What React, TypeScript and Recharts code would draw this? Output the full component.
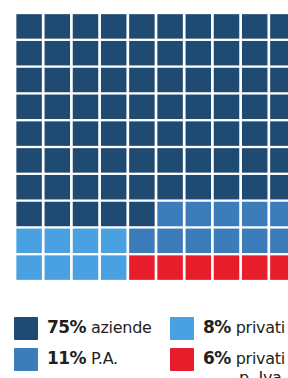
import { ScatterChart, Scatter, XAxis, YAxis } from 'recharts'

// share of customers, 100 cells
const categories = ['aziende', 'P.A.', 'privati', 'privati\np. Iva']
const percents = [75, 11, 8, 6]
const colors = ['#1f4a72', '#3d7cba', '#4aa1e1', '#e81d2b']

// which category fills each cell, row by row from the top (index into categories)
const gridRows = [
  '0000000000',
  '0000000000',
  '0000000000',
  '0000000000',
  '0000000000',
  '0000000000',
  '0000000000',
  '0000011111',
  '2222111111',
  '2222333333',
]

const CELL_W = 25.5
const CELL_H = 24.5

function cellsFor(cat: number) {
  const out: { x: number; y: number }[] = []
  gridRows.forEach((row, r) => {
    row.split('').forEach((ch, c) => {
      if (Number(ch) === cat) out.push({ x: c + 0.5, y: r + 0.5 })
    })
  })
  return out
}

const Square = (props: any) => (
  <rect
    x={props.cx - CELL_W / 2}
    y={props.cy - CELL_H / 2}
    width={CELL_W}
    height={CELL_H}
    fill={props.fill}
  />
)

function LegendItem({ i, left, top }: { i: number; left: number; top: number }) {
  const [first, second] = categories[i].split('\n')
  return (
    <div style={{ position: 'absolute', left, top, display: 'flex', alignItems: 'flex-start' }}>
      <div style={{ width: 24, height: 23, background: colors[i], borderRadius: 1 }} />
      <div style={{ marginLeft: 9, marginTop: 1, whiteSpace: 'nowrap', lineHeight: '19px' }}>
        <span style={{ fontWeight: 700, fontSize: 17, letterSpacing: -0.6 }}>{percents[i]}%</span>{' '}
        <span style={{ display: 'inline-block', verticalAlign: 'top', textAlign: 'center', fontSize: 16, letterSpacing: -0.3 }}>
          {first}
          {second && <br />}
          {second}
        </span>
      </div>
    </div>
  )
}

export default function App() {
  return (
    <div
      style={{
        position: 'fixed',
        left: 0,
        top: 0,
        width: 288,
        height: 378,
        overflow: 'hidden',
        background: '#ffffff',
        fontFamily: '"DejaVu Sans", sans-serif',
        color: '#231f20',
      }}
    >
      <ScatterChart width={300} height={290} margin={{ top: 13, right: 3, bottom: 9, left: 15 }}>
        <XAxis type="number" dataKey="x" domain={[0, 10]} hide />
        <YAxis type="number" dataKey="y" domain={[0, 10]} reversed hide />
        {categories.map((c, i) => (
          <Scatter
            key={c}
            name={c}
            data={cellsFor(i)}
            fill={colors[i]}
            shape={Square}
            isAnimationActive={false}
          />
        ))}
      </ScatterChart>
      <LegendItem i={0} left={14} top={317} />
      <LegendItem i={1} left={14} top={348} />
      <LegendItem i={2} left={170} top={317} />
      <LegendItem i={3} left={170} top={348} />
    </div>
  )
}
